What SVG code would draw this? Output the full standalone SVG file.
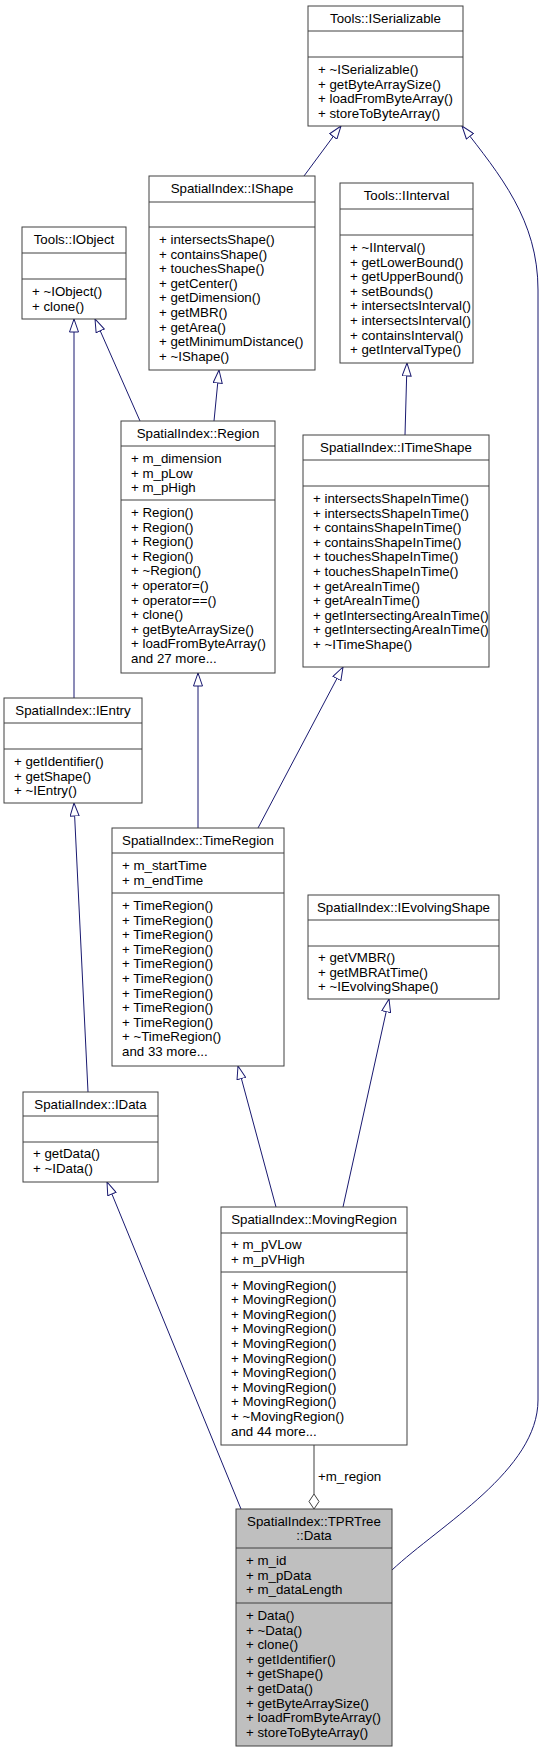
<svg xmlns="http://www.w3.org/2000/svg" width="545" height="1752" viewBox="0 0 545 1752">
<style>
text{font-family:"Liberation Sans",Arial,Helvetica,sans-serif;font-size:13.3px;fill:#000}
.t{text-anchor:middle}
.b{fill:#fff;stroke:#404040;stroke-width:1}
.g{fill:#bfbfbf;stroke:#404040;stroke-width:1}
.s{stroke:#404040;stroke-width:1}
.e{fill:none;stroke:#191970;stroke-width:1;marker-end:url(#tri)}
.a{fill:none;stroke:#404040;stroke-width:1}
</style>
<defs>
<marker id="tri" viewBox="0 0 14 10" refX="13.5" refY="5" markerWidth="14" markerHeight="10" markerUnits="userSpaceOnUse" orient="auto">
<path d="M0.5,0.5 L13.5,5 L0.5,9.5 Z" fill="#fff" stroke="#191970" stroke-width="1"/>
</marker>
</defs>
<rect width="545" height="1752" fill="#fff"/>
<g id="connectors">
<path class="e" d="M304,176 L341,126"/>
<path class="e" d="M392,1570 C440,1525 538,1470 538,1400 L538,290 C538,220 500,175 462,126"/>
<path class="e" d="M140,421 L95,319"/>
<path class="e" d="M74,698 L74,319"/>
<path class="e" d="M214,421 L219,370"/>
<path class="e" d="M405,435 L407,363"/>
<path class="e" d="M198,828 L198,673"/>
<path class="e" d="M258,828 L343,667"/>
<path class="e" d="M88,1092 L74,803"/>
<path class="e" d="M276,1207 L238,1066"/>
<path class="e" d="M343,1207 L389,999"/>
<path class="e" d="M241,1509 L107,1182"/>
<path class="a" d="M314,1445 L314,1494"/>
<polygon class="a" fill="#fff" points="314,1509 319,1501.5 314,1494 309,1501.5"/>
<text x="318" y="1481">+m_region</text>
</g>
<g id="ISerializable">
<rect class="b" x="308" y="6" width="155" height="120"/>
<line class="s" x1="308" y1="31" x2="463" y2="31"/>
<line class="s" x1="308" y1="57" x2="463" y2="57"/>
<text class="t" x="385.5" y="23">Tools::ISerializable</text>
<text x="318" y="74">+ ~ISerializable()</text>
<text x="318" y="88.6">+ getByteArraySize()</text>
<text x="318" y="103.2">+ loadFromByteArray()</text>
<text x="318" y="117.8">+ storeToByteArray()</text>
</g>
<g id="IShape">
<rect class="b" x="149" y="176" width="166" height="194"/>
<line class="s" x1="149" y1="202" x2="315" y2="202"/>
<line class="s" x1="149" y1="227" x2="315" y2="227"/>
<text class="t" x="232" y="193">SpatialIndex::IShape</text>
<text x="159" y="244">+ intersectsShape()</text>
<text x="159" y="258.6">+ containsShape()</text>
<text x="159" y="273.2">+ touchesShape()</text>
<text x="159" y="287.8">+ getCenter()</text>
<text x="159" y="302.4">+ getDimension()</text>
<text x="159" y="317">+ getMBR()</text>
<text x="159" y="331.6">+ getArea()</text>
<text x="159" y="346.2">+ getMinimumDistance()</text>
<text x="159" y="360.8">+ ~IShape()</text>
</g>
<g id="IObject">
<rect class="b" x="22" y="227" width="104" height="92"/>
<line class="s" x1="22" y1="253" x2="126" y2="253"/>
<line class="s" x1="22" y1="279" x2="126" y2="279"/>
<text class="t" x="74" y="244">Tools::IObject</text>
<text x="32" y="296">+ ~IObject()</text>
<text x="32" y="310.6">+ clone()</text>
</g>
<g id="IInterval">
<rect class="b" x="340" y="183" width="133" height="180"/>
<line class="s" x1="340" y1="209" x2="473" y2="209"/>
<line class="s" x1="340" y1="235" x2="473" y2="235"/>
<text class="t" x="406.5" y="200">Tools::IInterval</text>
<text x="350" y="252">+ ~IInterval()</text>
<text x="350" y="266.6">+ getLowerBound()</text>
<text x="350" y="281.2">+ getUpperBound()</text>
<text x="350" y="295.8">+ setBounds()</text>
<text x="350" y="310.4">+ intersectsInterval()</text>
<text x="350" y="325">+ intersectsInterval()</text>
<text x="350" y="339.6">+ containsInterval()</text>
<text x="350" y="354.2">+ getIntervalType()</text>
</g>
<g id="Region">
<rect class="b" x="121" y="421" width="154" height="252"/>
<line class="s" x1="121" y1="446" x2="275" y2="446"/>
<line class="s" x1="121" y1="500" x2="275" y2="500"/>
<text class="t" x="198" y="438">SpatialIndex::Region</text>
<text x="131" y="463">+ m_dimension</text>
<text x="131" y="477.6">+ m_pLow</text>
<text x="131" y="492.2">+ m_pHigh</text>
<text x="131" y="517">+ Region()</text>
<text x="131" y="531.6">+ Region()</text>
<text x="131" y="546.2">+ Region()</text>
<text x="131" y="560.8">+ Region()</text>
<text x="131" y="575.4">+ ~Region()</text>
<text x="131" y="590">+ operator=()</text>
<text x="131" y="604.6">+ operator==()</text>
<text x="131" y="619.2">+ clone()</text>
<text x="131" y="633.8">+ getByteArraySize()</text>
<text x="131" y="648.4">+ loadFromByteArray()</text>
<text x="131" y="663">and 27 more...</text>
</g>
<g id="ITimeShape">
<rect class="b" x="303" y="435" width="186" height="232"/>
<line class="s" x1="303" y1="460" x2="489" y2="460"/>
<line class="s" x1="303" y1="486" x2="489" y2="486"/>
<text class="t" x="396" y="452">SpatialIndex::ITimeShape</text>
<text x="313" y="503">+ intersectsShapeInTime()</text>
<text x="313" y="517.6">+ intersectsShapeInTime()</text>
<text x="313" y="532.2">+ containsShapeInTime()</text>
<text x="313" y="546.8">+ containsShapeInTime()</text>
<text x="313" y="561.4">+ touchesShapeInTime()</text>
<text x="313" y="576">+ touchesShapeInTime()</text>
<text x="313" y="590.6">+ getAreaInTime()</text>
<text x="313" y="605.2">+ getAreaInTime()</text>
<text x="313" y="619.8">+ getIntersectingAreaInTime()</text>
<text x="313" y="634.4">+ getIntersectingAreaInTime()</text>
<text x="313" y="649">+ ~ITimeShape()</text>
</g>
<g id="IEntry">
<rect class="b" x="4" y="698" width="138" height="105"/>
<line class="s" x1="4" y1="723" x2="142" y2="723"/>
<line class="s" x1="4" y1="749" x2="142" y2="749"/>
<text class="t" x="73" y="715">SpatialIndex::IEntry</text>
<text x="14" y="766">+ getIdentifier()</text>
<text x="14" y="780.6">+ getShape()</text>
<text x="14" y="795.2">+ ~IEntry()</text>
</g>
<g id="TimeRegion">
<rect class="b" x="112" y="828" width="172" height="238"/>
<line class="s" x1="112" y1="853" x2="284" y2="853"/>
<line class="s" x1="112" y1="893" x2="284" y2="893"/>
<text class="t" x="198" y="845">SpatialIndex::TimeRegion</text>
<text x="122" y="870">+ m_startTime</text>
<text x="122" y="884.6">+ m_endTime</text>
<text x="122" y="910">+ TimeRegion()</text>
<text x="122" y="924.6">+ TimeRegion()</text>
<text x="122" y="939.2">+ TimeRegion()</text>
<text x="122" y="953.8">+ TimeRegion()</text>
<text x="122" y="968.4">+ TimeRegion()</text>
<text x="122" y="983">+ TimeRegion()</text>
<text x="122" y="997.6">+ TimeRegion()</text>
<text x="122" y="1012.2">+ TimeRegion()</text>
<text x="122" y="1026.8">+ TimeRegion()</text>
<text x="122" y="1041.4">+ ~TimeRegion()</text>
<text x="122" y="1056">and 33 more...</text>
</g>
<g id="IEvolvingShape">
<rect class="b" x="308" y="895" width="191" height="104"/>
<line class="s" x1="308" y1="920" x2="499" y2="920"/>
<line class="s" x1="308" y1="946" x2="499" y2="946"/>
<text class="t" x="403.5" y="912">SpatialIndex::IEvolvingShape</text>
<text x="318" y="962">+ getVMBR()</text>
<text x="318" y="976.6">+ getMBRAtTime()</text>
<text x="318" y="991.2">+ ~IEvolvingShape()</text>
</g>
<g id="IData">
<rect class="b" x="23" y="1092" width="135" height="90"/>
<line class="s" x1="23" y1="1116" x2="158" y2="1116"/>
<line class="s" x1="23" y1="1142" x2="158" y2="1142"/>
<text class="t" x="90.5" y="1108.5">SpatialIndex::IData</text>
<text x="33" y="1158">+ getData()</text>
<text x="33" y="1172.6">+ ~IData()</text>
</g>
<g id="MovingRegion">
<rect class="b" x="221" y="1207" width="186" height="238"/>
<line class="s" x1="221" y1="1233" x2="407" y2="1233"/>
<line class="s" x1="221" y1="1272" x2="407" y2="1272"/>
<text class="t" x="314" y="1224">SpatialIndex::MovingRegion</text>
<text x="231" y="1249">+ m_pVLow</text>
<text x="231" y="1263.6">+ m_pVHigh</text>
<text x="231" y="1289.5">+ MovingRegion()</text>
<text x="231" y="1304.1">+ MovingRegion()</text>
<text x="231" y="1318.7">+ MovingRegion()</text>
<text x="231" y="1333.3">+ MovingRegion()</text>
<text x="231" y="1347.9">+ MovingRegion()</text>
<text x="231" y="1362.5">+ MovingRegion()</text>
<text x="231" y="1377.1">+ MovingRegion()</text>
<text x="231" y="1391.7">+ MovingRegion()</text>
<text x="231" y="1406.3">+ MovingRegion()</text>
<text x="231" y="1420.9">+ ~MovingRegion()</text>
<text x="231" y="1435.5">and 44 more...</text>
</g>
<g id="TPRTreeData">
<rect class="g" x="236" y="1509" width="156" height="237"/>
<line class="s" x1="236" y1="1548" x2="392" y2="1548"/>
<line class="s" x1="236" y1="1603" x2="392" y2="1603"/>
<text class="t" x="314" y="1526">SpatialIndex::TPRTree</text>
<text class="t" x="314" y="1540">::Data</text>
<text x="246" y="1565">+ m_id</text>
<text x="246" y="1579.6">+ m_pData</text>
<text x="246" y="1594.2">+ m_dataLength</text>
<text x="246" y="1620">+ Data()</text>
<text x="246" y="1634.6">+ ~Data()</text>
<text x="246" y="1649.2">+ clone()</text>
<text x="246" y="1663.8">+ getIdentifier()</text>
<text x="246" y="1678.4">+ getShape()</text>
<text x="246" y="1693">+ getData()</text>
<text x="246" y="1707.6">+ getByteArraySize()</text>
<text x="246" y="1722.2">+ loadFromByteArray()</text>
<text x="246" y="1736.8">+ storeToByteArray()</text>
</g>
</svg>
